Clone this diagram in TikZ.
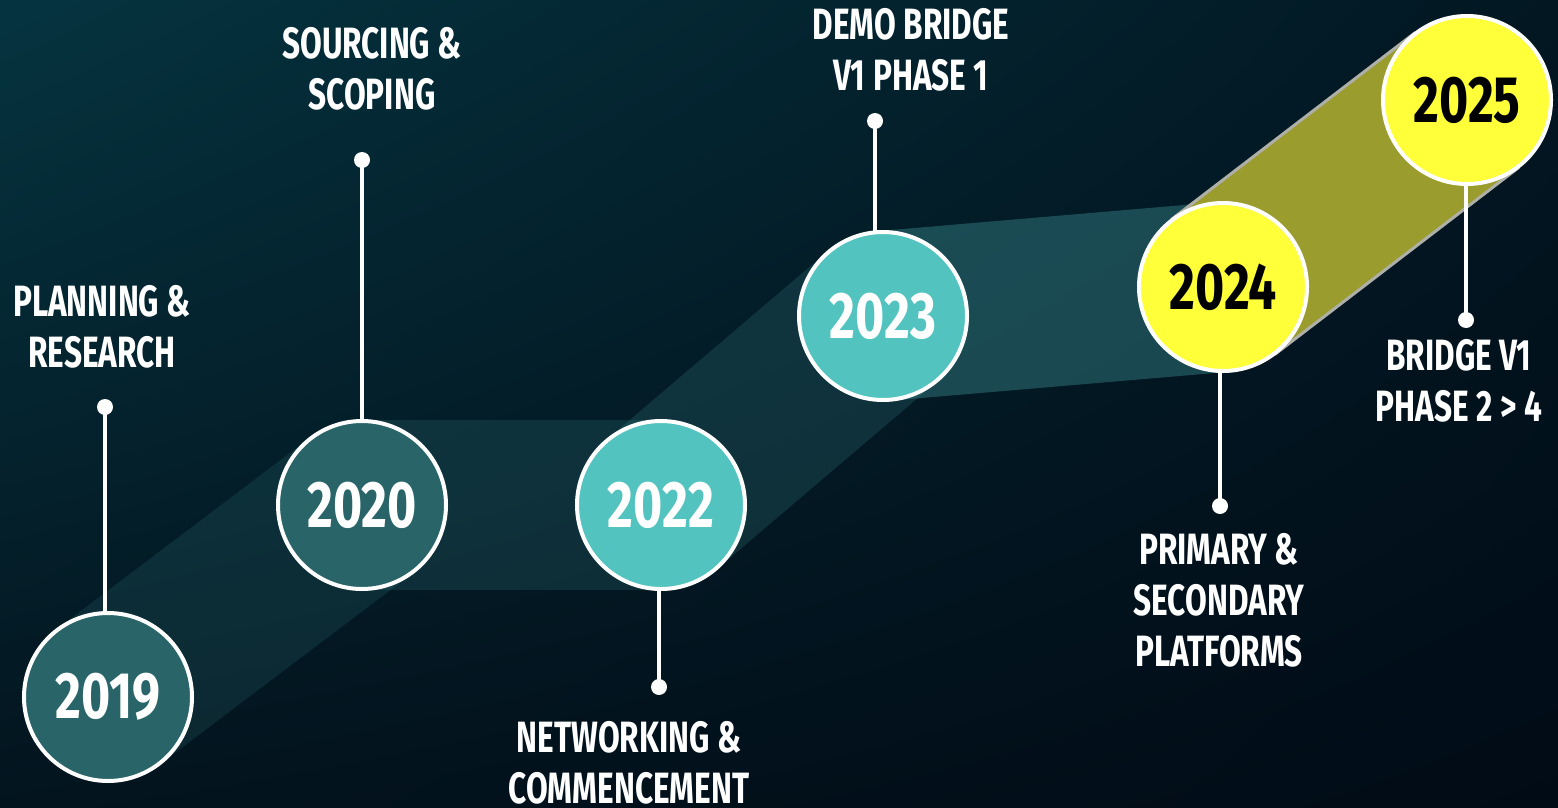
\documentclass[tikz,border=0pt]{standalone}
\usepackage{fontspec}
\usetikzlibrary{calc,shadings}
\newfontfamily\lblfont{Fira Sans}[FakeStretch=0.72]
\newfontfamily\yrfont{Fira Sans}[FakeStretch=0.76]
\definecolor{bgUL}{HTML}{053440}
\definecolor{bgUR}{HTML}{021722}
\definecolor{bgLL}{HTML}{03141E}
\definecolor{bgLR}{HTML}{010B16}
\definecolor{darkteal}{HTML}{286468}
\definecolor{lightteal}{HTML}{52C3BE}
\definecolor{yel}{HTML}{FFFF3A}
\definecolor{bandteal}{HTML}{3A8A8F}
\definecolor{olive}{HTML}{9A9C2E}
\definecolor{olivedge}{HTML}{AEAFA6}
\tikzset{
  yearc/.style={circle, draw=white, line width=4bp, minimum size=168bp, inner sep=0pt,
    font=\yrfont\bfseries\fontsize{66}{66}\selectfont},
  pindot/.style={circle, fill=white, minimum size=16bp, inner sep=0pt},
  pinline/.style={white, line width=3.2bp},
  lbl/.style={text=white, align=center, anchor=north, inner sep=0pt,
    font=\lblfont\bfseries\fontsize{44}{51.5}\selectfont},
}
\begin{document}
\begin{tikzpicture}[x=1bp, y=-1bp]
\useasboundingbox (0,0) rectangle (1558,807);
\shade[upper left=bgUL, upper right=bgUR, lower left=bgLL, lower right=bgLR] (0,0) rectangle (1558,807);

% circle centres
\coordinate (k19) at (108,697);
\coordinate (k20) at (362,505);
\coordinate (k22) at (661,505);
\coordinate (k23) at (883,316);
\coordinate (k24) at (1223,287);
\coordinate (k25) at (1467,100);

% bands
\fill[bandteal, opacity=0.17] ($(k19)!85bp!90:(k20)$) -- ($(k20)!85bp!-90:(k19)$) -- ($(k20)!85bp!90:(k19)$) -- ($(k19)!85bp!-90:(k20)$) -- cycle;
\fill[bandteal, opacity=0.2] ($(k20)!85bp!90:(k22)$) -- ($(k22)!85bp!-90:(k20)$) -- ($(k22)!85bp!90:(k20)$) -- ($(k20)!85bp!-90:(k22)$) -- cycle;
\fill[bandteal, opacity=0.22] ($(k22)!85bp!90:(k23)$) -- ($(k23)!85bp!-90:(k22)$) -- ($(k23)!85bp!90:(k22)$) -- ($(k22)!85bp!-90:(k23)$) -- cycle;
\fill[bandteal, opacity=0.43] ($(k23)!85bp!90:(k24)$) -- ($(k24)!85bp!-90:(k23)$) -- ($(k24)!85bp!90:(k23)$) -- ($(k23)!85bp!-90:(k24)$) -- cycle;
\fill[olive] ($(k24)!85bp!90:(k25)$) -- ($(k25)!85bp!-90:(k24)$) -- ($(k25)!85bp!90:(k24)$) -- ($(k24)!85bp!-90:(k25)$) -- cycle;
\draw[olivedge, line width=3bp] ($(k24)!85bp!90:(k25)$) -- ($(k25)!85bp!-90:(k24)$);
\draw[olivedge, line width=3bp] ($(k25)!85bp!90:(k24)$) -- ($(k24)!85bp!-90:(k25)$);

% pin dots
\node[pindot] (p19) at (105,407) {};
\node[pindot] (p20) at (362,160) {};
\node[pindot] (p22) at (659,687) {};
\node[pindot] (p23) at (875,121) {};
\node[pindot] (p24) at (1220,506) {};
\node[pindot] (p25) at (1466,320) {};

% pin lines
\draw[pinline] (p19.center) -- (p19.center |- k19);
\draw[pinline] (p20.center) -- (p20.center |- k20);
\draw[pinline] (p22.center) -- (p22.center |- k22);
\draw[pinline] (p23.center) -- (p23.center |- k23);
\draw[pinline] (p24.center) -- (p24.center |- k24);
\draw[pinline] (p25.center) -- (p25.center |- k25);

% year circles
\node[yearc, fill=darkteal, text=white] (c19) at (k19) {2019};
\node[yearc, fill=darkteal, text=white] (c20) at (k20) {2020};
\node[yearc, fill=lightteal, text=white] (c22) at (k22) {2022};
\node[yearc, fill=lightteal, text=white] (c23) at (k23) {2023};
\node[yearc, fill=yel, text=black] (c24) at (k24) {2024};
\node[yearc, fill=yel, text=black] (c25) at (k25) {2025};

% labels
\node[lbl] (t19) at (102,285) {PLANNING \&\\RESEARCH};
\node[lbl] (t20) at (372,27) {SOURCING \&\\SCOPING};
\node[lbl] (t22) at (629,721) {NETWORKING \&\\COMMENCEMENT};
\node[lbl] (t23) at (911,8) {DEMO BRIDGE\\V1 PHASE 1};
\node[lbl] (t24) at (1219,533) {PRIMARY \&\\SECONDARY\\PLATFORMS};
\node[lbl] (t25) at (1459,339) {BRIDGE V1\\PHASE 2 > 4};
\end{tikzpicture}
\end{document}
